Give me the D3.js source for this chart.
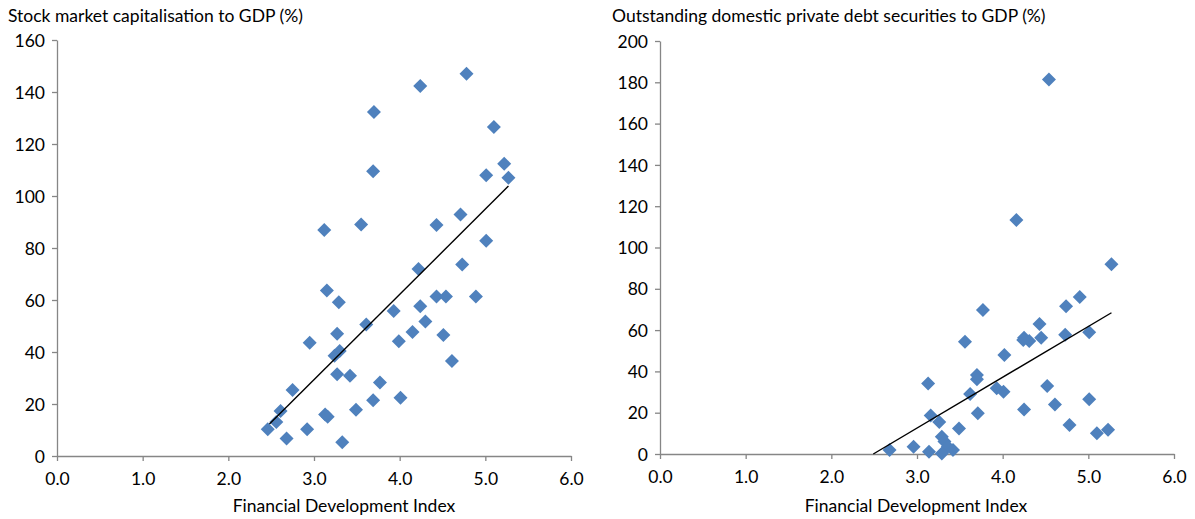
<!DOCTYPE html>
<html><head><meta charset="utf-8">
<script src="https://cdn.jsdelivr.net/npm/d3@7"></script>
<style>
body{margin:0;background:#fff;}
text{font-family:Lato,"Open Sans",sans-serif;fill:#000;}
</style></head>
<body><svg id="c" width="1195" height="519"></svg>
<script>
// Left panel: Stock market capitalisation to GDP (%)
const stockX = [4.78,4.24,3.70,5.10,3.69,5.22,5.01,5.27,3.12,3.55,4.43,4.71,5.01,
  4.73,4.22,3.15,3.29,4.43,4.54,4.89,3.93,4.24,3.61,4.30,3.27,4.15,3.99,4.51,2.95,3.30,3.24,4.61,
  3.27,3.42,3.77,2.75,3.69,4.01,3.49,2.61,3.13,3.16,2.56,2.46,2.92,2.68,3.33];
const stockY = [147.0,142.3,132.3,126.5,109.5,112.4,108.0,107.0,86.9,89.0,88.8,92.9,82.8,
  73.7,71.9,63.7,59.1,61.3,61.3,61.3,55.8,57.6,50.6,51.7,47.0,47.7,44.1,46.5,43.6,40.4,38.6,36.5,
  31.4,30.9,28.3,25.4,21.4,22.4,17.8,17.3,16.0,15.1,13.1,10.3,10.3,6.7,5.3];
const stockTrendX = [2.48,5.27];
const stockTrendY = [12.3,103.8];

// Right panel: Outstanding domestic private debt securities to GDP (%)
const debtX = [4.54,4.16,5.27,4.90,4.74,3.77,4.43,4.25,4.31,4.24,4.45,4.73,5.01,3.56,4.02,3.70,3.70,
  3.13,3.93,4.01,4.52,3.62,5.01,4.61,4.25,3.71,3.16,3.26,3.49,4.78,5.23,5.10,3.29,3.32,3.36,3.42,
  2.96,3.14,3.29,2.68];
const debtY = [181.3,113.3,91.9,76.0,71.5,69.7,63.0,56.3,54.7,55.2,56.3,57.8,58.9,54.4,47.9,38.3,36.2,
  34.1,31.8,30.2,32.9,29.1,26.5,24.0,21.6,19.7,18.6,15.5,12.4,14.0,11.8,10.0,8.4,6.0,3.5,1.9,
  3.5,1.1,0.3,1.9];
const debtTrendX = [2.49,5.27];
const debtTrendY = [0,68.4];

const xTicks = [0,1,2,3,4,5,6];
const stockYTicks = [0,20,40,60,80,100,120,140,160];
const debtYTicks = [0,20,40,60,80,100,120,140,160,180,200];

const svg = d3.select("#c");
const markerColor = "#4F81BD";
const axisColor = "#868686";
const fs = 17.5;

function panel(cfg){
  const g = svg.append("g");
  const x = d3.scaleLinear().domain([0,6]).range([cfg.x0, cfg.x1]);
  const y = d3.scaleLinear().domain([0,cfg.ymax]).range([cfg.y0, cfg.y1]);
  const xa = g.append("g").attr("transform",`translate(0,${cfg.y0})`)
    .call(d3.axisBottom(x).tickValues(xTicks).tickFormat(d3.format(".1f")).tickSize(5).tickSizeOuter(0));
  const ya = g.append("g").attr("transform",`translate(${cfg.x0},0)`)
    .call(d3.axisLeft(y).tickValues(cfg.yTicks).tickFormat(d3.format("d")).tickSize(5).tickSizeOuter(0));
  [xa,ya].forEach(a=>{
    a.select(".domain").attr("stroke",axisColor).attr("stroke-width",1.3);
    a.selectAll(".tick line").attr("stroke",axisColor).attr("stroke-width",1.3);
    a.selectAll(".tick text").attr("font-size",fs).attr("fill","#000")
      .style("font-family","Lato, 'Open Sans', sans-serif");
  });
  xa.selectAll(".tick text").attr("dy","1.2em");
  ya.selectAll(".tick text").attr("x",-12).attr("dy","0.35em");
  const diamond = d3.symbol().type(d3.symbolDiamond2).size(125);
  g.append("g").selectAll("path").data(cfg.xs.map((v,i)=>[v,cfg.ys[i]])).join("path")
    .attr("d",diamond)
    .attr("transform",d=>`translate(${x(d[0])},${y(d[1])})`)
    .attr("fill",markerColor);
  g.append("line")
    .attr("x1",x(cfg.tx[0])).attr("y1",y(cfg.ty[0]))
    .attr("x2",x(cfg.tx[1])).attr("y2",y(cfg.ty[1]))
    .attr("stroke","#000").attr("stroke-width",1.4);
  g.append("text").attr("x",cfg.titleX).attr("y",22).attr("font-size",fs).text(cfg.title);
  g.append("text").attr("x",cfg.xTitleX).attr("y",512).attr("text-anchor","middle")
    .attr("font-size",fs).text("Financial Development Index");
}

panel({x0:57,x1:571,y0:456,y1:40,ymax:160,yTicks:stockYTicks,xs:stockX,ys:stockY,
  tx:stockTrendX,ty:stockTrendY,title:"Stock market capitalisation to GDP (%)",titleX:8,xTitleX:344});
panel({x0:660,x1:1174,y0:454,y1:41,ymax:200,yTicks:debtYTicks,xs:debtX,ys:debtY,
  tx:debtTrendX,ty:debtTrendY,title:"Outstanding domestic private debt securities to GDP (%)",titleX:612,xTitleX:916});
</script></body></html>
